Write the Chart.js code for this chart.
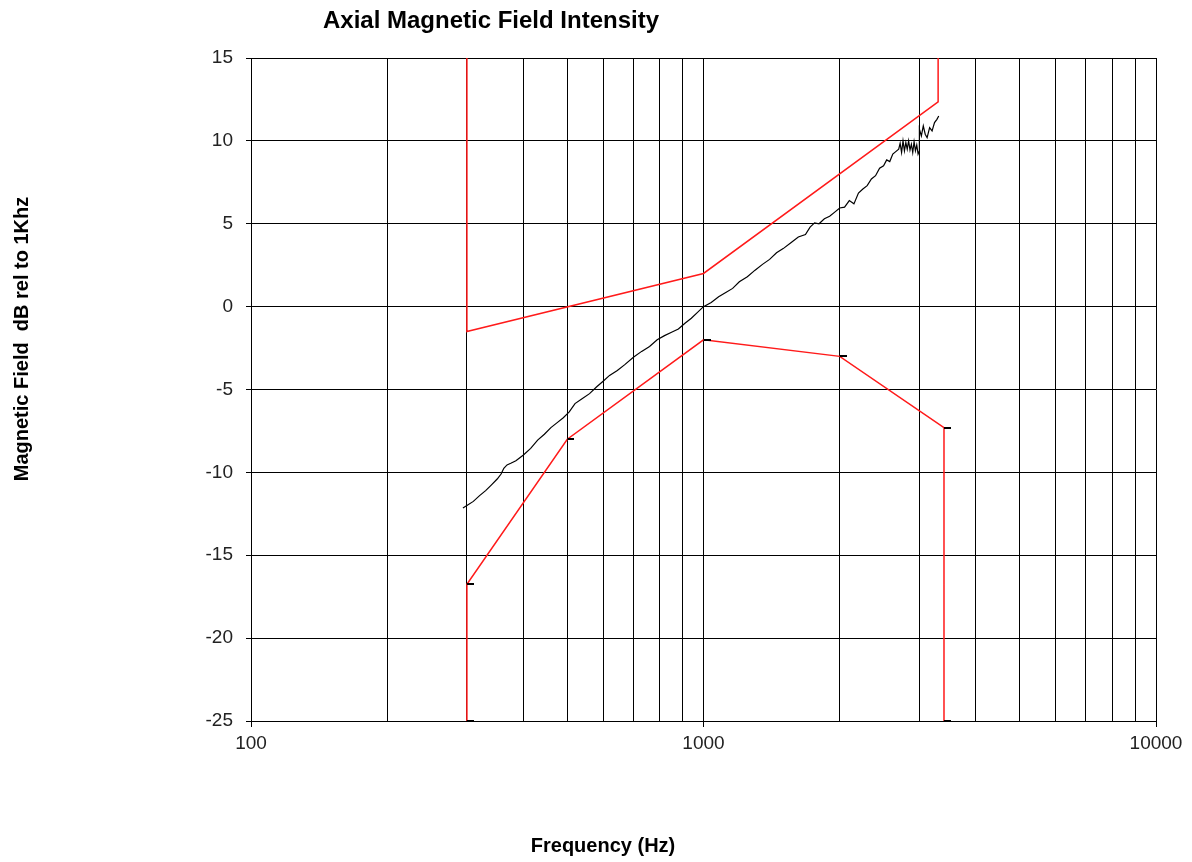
<!DOCTYPE html>
<html><head><meta charset="utf-8">
<script src="https://cdn.jsdelivr.net/npm/chart.js@4.4.0/dist/chart.umd.min.js"></script>
<style>html,body{margin:0;padding:0;background:#fff}#wrap{width:1192px;height:862px;position:relative}</style>
</head><body><div id="wrap"><canvas id="c"></canvas></div>
<script>
const titleText = "Axial Magnetic Field Intensity";
const xTitle = "Frequency (Hz)";
const yTitle = "Magnetic Field  dB rel to 1Khz";
const xGridValues = [100,200,300,400,500,600,700,800,900,1000,2000,3000,4000,5000,6000,7000,8000,9000,10000];
const xLabelValues = [100,1000,10000];
const yTickStep = 5;

const upperFreq = [300, 300, 1000, 3300, 3300];
const upperDb   = [15, -1.5, 2, 12.35, 15];
const lowerFreq = [300, 300, 500, 1000, 2000, 3400, 3400];
const lowerDb   = [-25, -16.75, -8, -2, -3, -7.3, -25];

const measFreq = [294,300,310,320,330,340,350,357,362,368,375,385,400,415,430,445,460,475,490,505,520,540,560,580,600,620,645,670,700,730,760,790,820,850,880,910,940,970,1000,1040,1080,1120,1160,1200,1250,1300,1350,1400,1450,1500,1560,1620,1680,1720,1760,1800,1850,1900,1950,2000,2050,2100,2150,2200,2250,2300,2350,2400,2450,2500,2540,2580,2620,2660,2700,2720,2740,2760,2780,2800,2820,2840,2860,2880,2900,2920,2940,2960,2980,2995,3000,3030,3060,3090,3120,3160,3200,3240,3280,3310];
const measDb = [-12.15,-12.0,-11.75,-11.4,-11.1,-10.75,-10.4,-10.1,-9.75,-9.55,-9.45,-9.3,-8.95,-8.55,-8.05,-7.7,-7.3,-7.0,-6.7,-6.35,-5.85,-5.55,-5.25,-4.85,-4.5,-4.15,-3.85,-3.5,-3.05,-2.7,-2.4,-2.0,-1.75,-1.55,-1.35,-1.0,-0.7,-0.35,0.0,0.25,0.6,0.85,1.1,1.5,1.8,2.2,2.55,2.85,3.25,3.5,3.85,4.2,4.35,4.8,5.05,5.0,5.3,5.45,5.7,5.95,6.0,6.4,6.2,6.85,7.1,7.3,7.7,7.9,8.35,8.5,8.85,8.75,9.2,9.35,9.5,9.85,9.3,10.0,9.4,9.9,9.5,10.0,9.45,9.8,9.3,9.95,9.4,9.75,9.2,9.35,10.7,10.3,10.9,10.4,10.2,10.8,10.6,11.1,11.3,11.5];

const toPts = (xs, ys) => xs.map((x, i) => ({x, y: ys[i]}));

// dash marker (Excel-style, extends to the right of the point)
const dash = document.createElement('canvas');
dash.width = 14; dash.height = 2;
const dctx = dash.getContext('2d');
dctx.fillStyle = '#000';
dctx.fillRect(7, 0, 7, 2);

const FONT = '"Liberation Sans", Arial, sans-serif';

const textPlugin = {
  id: 'texts',
  afterDraw(chart) {
    const ctx = chart.ctx;
    ctx.save();
    ctx.fillStyle = '#000';
    ctx.textAlign = 'center';
    ctx.textBaseline = 'middle';
    ctx.font = 'bold 24px ' + FONT;
    ctx.fillText(titleText, 491, 21);
    ctx.font = 'bold 20px ' + FONT;
    ctx.fillText(xTitle, 603, 846);
    ctx.translate(22, 339);
    ctx.rotate(-Math.PI / 2);
    ctx.fillText(yTitle, 0, 0);
    ctx.restore();
  }
};

new Chart(document.getElementById('c'), {
  type: 'scatter',
  data: {
    datasets: [
      { data: toPts(measFreq, measDb), showLine: true, borderColor: '#000', borderWidth: 1.2, pointRadius: 0, tension: 0 },
      { data: toPts(upperFreq, upperDb), showLine: true, borderColor: '#ff1a1a', borderWidth: 1.5, pointRadius: 0 },
      { data: toPts(lowerFreq, lowerDb), showLine: true, borderColor: '#ff1a1a', borderWidth: 1.5, pointRadius: 3, pointStyle: dash }
    ]
  },
  options: {
    responsive: true,
    maintainAspectRatio: false,
    animation: false,
    layout: { padding: { left: 0, top: 58, right: 36, bottom: 0 } },
    plugins: { legend: { display: false }, tooltip: { enabled: false }, title: { display: false } },
    scales: {
      x: {
        type: 'logarithmic', min: 100, max: 10000,
        afterBuildTicks: s => { s.ticks = xGridValues.map(v => ({ value: v })); },
        afterFit: s => { s.height = 141; },
        grid: { color: '#000', lineWidth: 1, tickLength: 6,
          tickColor: c => (c.tick && xLabelValues.includes(c.tick.value)) ? '#000' : 'rgba(0,0,0,0)' },
        border: { color: '#000', width: 1 },
        ticks: { autoSkip: false, maxRotation: 0, padding: 5, color: '#222',
          font: { size: 19, family: FONT },
          callback: v => xLabelValues.includes(v) ? String(v) : '' }
      },
      y: {
        min: -25, max: 15,
        afterFit: s => { s.width = 251; },
        grid: { color: '#000', lineWidth: 1, tickLength: 5, tickColor: '#000' },
        border: { color: '#000', width: 1 },
        ticks: { stepSize: yTickStep, padding: 13, color: '#222',
          font: { size: 19, family: FONT } }
      }
    }
  },
  plugins: [textPlugin]
});
</script></body></html>
